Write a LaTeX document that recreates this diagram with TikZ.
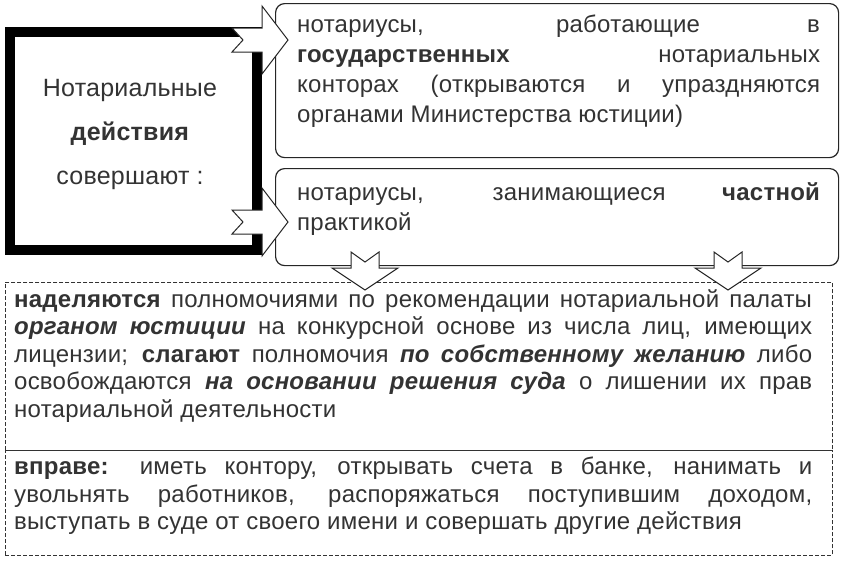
\documentclass[tikz,border=0pt]{standalone}
\usepackage{fontspec}
\setmainfont{Liberation Sans}[LetterSpace=1]
\begin{document}
\begin{tikzpicture}[x=1pt,y=-1pt,
  txt/.style={text=black!80, font=\fontsize{24}{27.5}\selectfont, inner sep=0pt, anchor=north west, align=justify},
  rbox/.style={draw=black!85, line width=1.2pt, rounded corners=9pt},
  dbox/.style={draw=black!80, line width=0.8pt, dash pattern=on 4pt off 2pt},
  arr/.style={draw=black!85, line width=1pt, fill=white, line join=miter}]
\useasboundingbox (0,0) rectangle (846,560);
\fill[white] (0,0) rectangle (846,560);
% left thick box
\node[draw=black, line width=10pt, minimum width=247pt, minimum height=218pt, anchor=north west, inner sep=0pt] (L) at (5,27) {};
\node[text=black!80, font=\fontsize{25}{28}\selectfont, align=center, inner sep=0pt] (Lt) at (130,134)
  {Нотариальные\\[16pt]\textbf{действия}\\[16pt]совершают :};
% right boxes
\node[rbox, minimum width=563pt, minimum height=154pt, anchor=north west, inner sep=0pt] (B1) at (275,3) {};
\node[rbox, minimum width=563pt, minimum height=97pt, anchor=north west, inner sep=0pt] (B2) at (275,168) {};
\node[txt, text width=523pt, font=\fontsize{24}{30}\selectfont] (T1) at (297,15)
 {нотариусы, работающие в\linebreak \textbf{государственных} нотариальных\linebreak конторах (открываются и упраздняются\linebreak органами Министерства юстиции)};
\node[txt, text width=523pt, font=\fontsize{24}{30}\selectfont] (T2) at (297,182)
 {нотариусы, занимающиеся \textbf{частной}\linebreak практикой};
% dashed boxes
\node[dbox, minimum width=827pt, minimum height=168pt, anchor=north west, inner sep=0pt] (D1) at (5,282) {};
\node[dbox, minimum width=827pt, minimum height=105pt, anchor=north west, inner sep=0pt] (D2) at (5,450) {};
\node[txt, text width=798pt] (T3) at (14,289)
 {\textbf{наделяются} полномочиями по рекомендации нотариальной палаты\linebreak \textbf{\textit{органом юстиции}} на конкурсной основе из числа лиц, имеющих\linebreak лицензии; \textbf{слагают} полномочия \textbf{\textit{по собственному желанию}} либо\linebreak освобождаются \textbf{\textit{на основании решения суда}} о лишении их прав\linebreak нотариальной деятельности};
\node[txt, text width=798pt] (T4) at (14,457)
 {\textbf{вправе:} иметь контору, открывать счета в банке, нанимать и\linebreak увольнять работников, распоряжаться поступившим доходом,\linebreak выступать в суде от своего имени и совершать другие действия};
% right arrows
\foreach \cy/\nm in {40/RA1, 222/RA2} {
  \draw[arr] (232,\cy-12) -- (262,\cy-12) -- (262,\cy-34) -- (288,\cy) -- (262,\cy+34) -- (262,\cy+12) -- (232,\cy+12) -- (243,\cy) -- cycle;
  \coordinate (\nm) at (288,\cy);
}
% down arrows
\foreach \cx/\nm in {365/DA1, 728/DA2} {
  \draw[arr] (\cx-14,252) -- (\cx,262) -- (\cx+14,252) -- (\cx+14,268) -- (\cx+33,268) -- (\cx,290) -- (\cx-33,268) -- (\cx-14,268) -- cycle;
  \coordinate (\nm) at (\cx,290);
}
\end{tikzpicture}
\end{document}
